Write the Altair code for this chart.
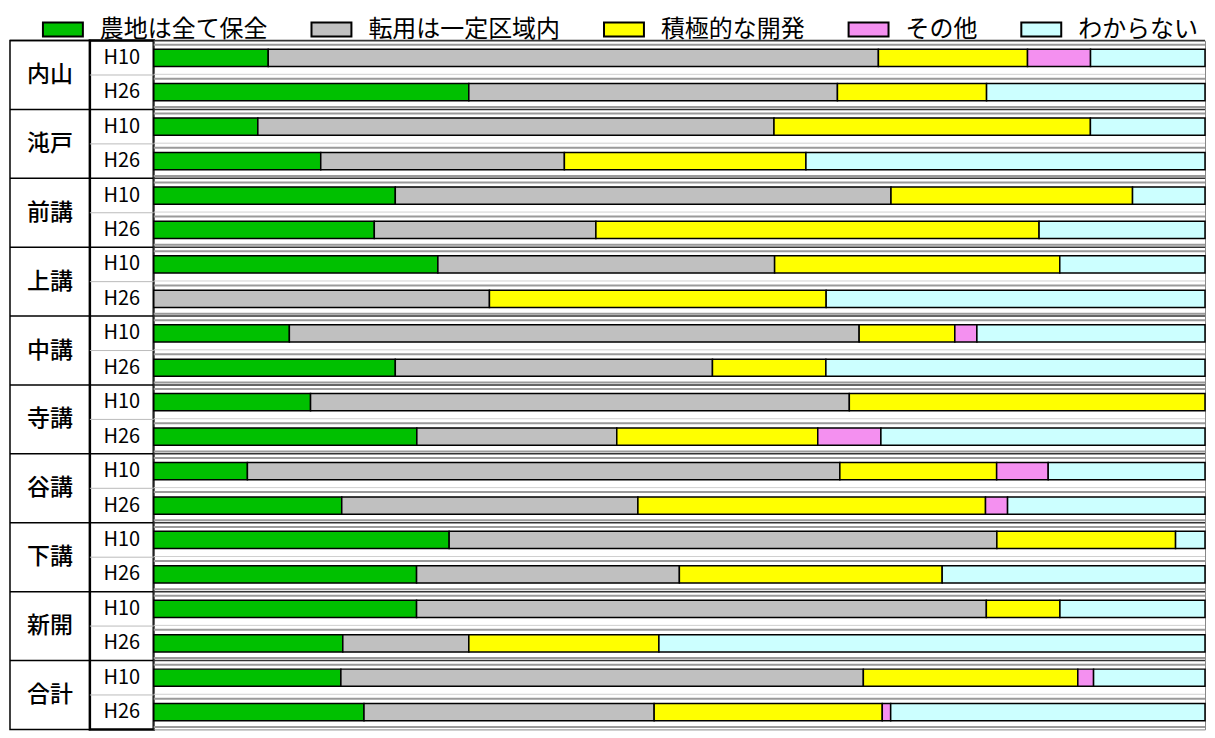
import altair as alt
import pandas as pd

regions = ["内山", "沌戸", "前講", "上講", "中講", "寺講", "谷講", "下講", "新開", "合計"]
years = ["H10", "H26"]
categories = ["農地は全て保全", "転用は一定区域内", "積極的な開発", "その他", "わからない"]
colors = ["#00c000", "#c0c0c0", "#ffff00", "#f490f0", "#ccffff"]

# values per (region, year): H10, H26 for each region in order
hozen = [10.9, 30.0, 9.9, 15.9, 23.0, 21.0, 27.0, 0.0, 12.9, 23.0,
         14.9, 25.0, 8.9, 17.9, 28.1, 25.0, 25.0, 18.0, 17.8, 20.0]
tenyo = [58.1, 35.1, 49.1, 23.2, 47.2, 21.1, 32.0, 31.9, 54.2, 30.2,
         51.2, 19.0, 56.3, 28.2, 52.1, 25.0, 54.2, 12.0, 49.7, 27.6]
kaihatsu = [14.2, 14.2, 30.1, 23.0, 23.0, 42.2, 27.1, 32.0, 9.1, 10.8,
            33.8, 19.1, 14.9, 33.1, 17.0, 25.0, 7.0, 18.1, 20.4, 21.7]
sonota = [6.0, 0.0, 0.0, 0.0, 0.0, 0.0, 0.0, 0.0, 2.1, 0.0,
          0.0, 6.0, 4.9, 2.1, 0.0, 0.0, 0.0, 0.0, 1.5, 0.8]
wakaranai = [10.9, 20.8, 10.9, 38.0, 6.9, 15.8, 13.8, 36.0, 21.7, 36.1,
             0.0, 30.8, 14.9, 18.8, 2.8, 25.0, 13.8, 52.0, 10.6, 29.9]

series = [hozen, tenyo, kaihatsu, sonota, wakaranai]
rows = []
for i, r in enumerate(regions):
    for j, yv in enumerate(years):
        for k, c in enumerate(categories):
            v = series[k][2 * i + j]
            if v > 0:
                rows.append({"region": r, "year": yv, "category": c, "k": k, "value": v})
df = pd.DataFrame(rows)
rdf = pd.DataFrame({"region": regions})
ydf = pd.DataFrame([{"region": r, "year": yv} for r in regions for yv in years])

FONT = "Noto Sans CJK JP"
H = 690

yscale = alt.Scale(paddingInner=0, paddingOuter=0)
yoff_scale = alt.Scale(paddingInner=0.5, paddingOuter=0.25)


def Y(frac=None):
    if frac is None:
        return alt.Y("region:N", sort=regions, axis=None, scale=yscale)
    return alt.Y("region:N", sort=regions, axis=None, scale=yscale, bandPosition=frac)


def hrule(data, frac, color, width):
    return alt.Chart(data).mark_rule(color=color, strokeWidth=width).encode(y=Y(frac))


# Region column
reg_text = alt.Chart(rdf).mark_text(font=FONT, fontSize=23, fontWeight=500, color="black").encode(
    y=Y(), text="region:N"
)
panel_a = alt.layer(hrule(rdf, 0, "black", 1.5), reg_text).properties(
    width=80, height=H, view=alt.ViewBackground(stroke="black", strokeWidth=1.5)
)

# Year column
yr_text = alt.Chart(ydf).mark_text(font=FONT, fontSize=20, color="black").encode(
    y=Y(),
    yOffset=alt.YOffset("year:N", sort=years, scale=yoff_scale),
    text="year:N",
)
panel_b = alt.layer(
    hrule(rdf, 0.5, "#bbbbbb", 1),
    hrule(rdf, 0, "black", 1.5),
    yr_text,
).properties(width=64, height=H, view=alt.ViewBackground(stroke="black", strokeWidth=2.5))

# Bars
bars = alt.Chart(df).transform_stack(
    stack="value",
    as_=["x0", "x1"],
    groupby=["region", "year"],
    sort=[alt.SortField("k", order="ascending")],
    offset="normalize",
).mark_bar(stroke="black", strokeWidth=1.5).encode(
    x=alt.X("x0:Q", axis=None, scale=alt.Scale(domain=[0, 1], nice=False, zero=False)),
    x2="x1:Q",
    y=Y(),
    yOffset=alt.YOffset("year:N", sort=years, scale=yoff_scale),
    color=alt.Color(
        "category:N",
        scale=alt.Scale(domain=categories, range=colors),
        legend=alt.Legend(
            title=None,
            orient="none",
            legendX=32,
            legendY=-32,
            direction="horizontal",
            columns=5,
            symbolType="M-1,-0.35H1V0.35H-1Z",
            symbolSize=1600,
            symbolStrokeColor="black",
            symbolStrokeWidth=2,
            symbolOpacity=1,
            labelFont=FONT,
            labelFontSize=24,
            labelColor="black",
            labelLimit=400,
            labelOffset=16,
            columnPadding=40,
        ),
    ),
)

panel_c = alt.layer(
    hrule(rdf, 0.06, "#9a9a9a", 2),
    hrule(rdf, 0.49, "#d0d0d0", 1),
    hrule(rdf, 0.555, "#9a9a9a", 2),
    hrule(rdf, 0.965, "#9a9a9a", 2),
    hrule(rdf, 0, "#333333", 1.5),
    bars,
).properties(width=1053, height=H, view=alt.ViewBackground(stroke="#888888", strokeWidth=1))

chart = alt.hconcat(panel_a, panel_b, panel_c, spacing=0, bounds="flush").properties(
    padding=0, background="white"
)

chart.save("out.html", embed_options={"renderer": "svg", "actions": False})
